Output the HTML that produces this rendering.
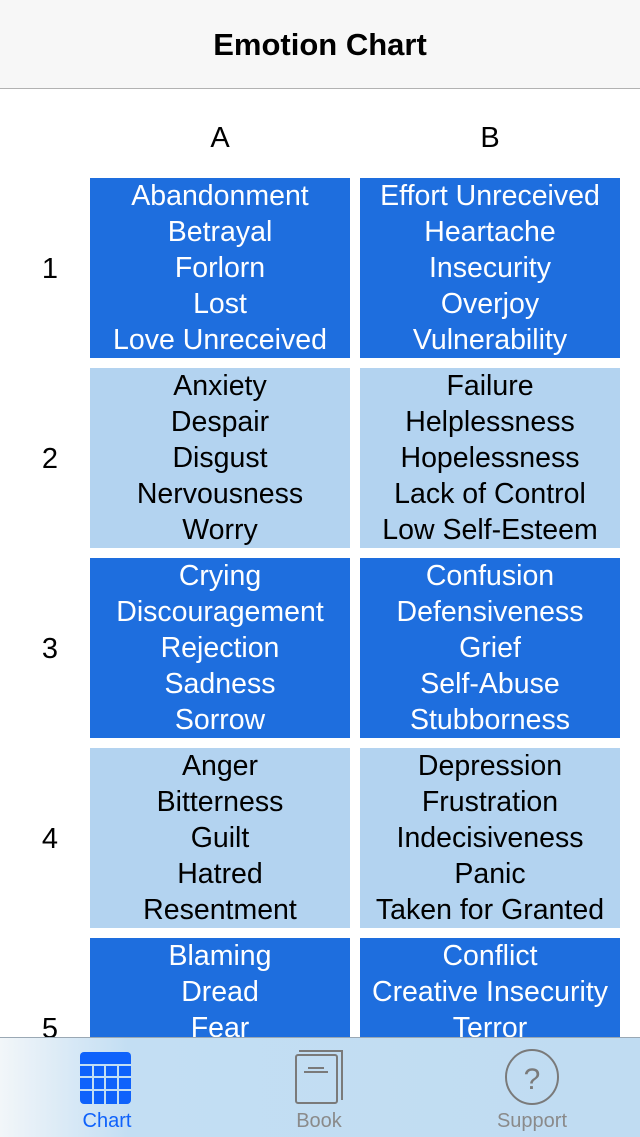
<!DOCTYPE html><html><head><style>
body{margin:0;width:640px;height:1136px;overflow:hidden;font-family:"Liberation Sans",sans-serif;background:#fff;position:relative}
.hdr{position:absolute;left:0;top:0;width:640px;height:88px;background:#f7f7f7;border-bottom:1px solid #b2b2b2;text-align:center;line-height:90px;font-size:31px;font-weight:bold}
.col{position:absolute;top:118px;font-size:29px;width:260px;text-align:center;line-height:40px}
.c{position:absolute;width:260px;height:180px;text-align:center;font-size:28.5px;line-height:36px;color:#fff;background:#1e6ede;overflow:hidden}
.l{background:#b3d3f0;color:#000}
.n{position:absolute;left:30px;width:40px;text-align:center;font-size:29px}
.tab{position:absolute;left:0;top:1037px;width:640px;height:99px;background:linear-gradient(90deg,#f2f6f9 0%,#c3def3 20%,#c0dcf2 100%);border-top:1px solid #9aa8b4}
.t{position:absolute;top:1110px;font-size:20px;color:#8a8a8a;width:120px;text-align:center}
</style></head><body>
<div class="hdr">Emotion Chart</div>
<div class="col" style="left:90px">A</div><div class="col" style="left:360px">B</div>
<div class="n" style="top:253px">1</div>
<div class="n" style="top:443px">2</div>
<div class="n" style="top:633px">3</div>
<div class="n" style="top:823px">4</div>
<div class="n" style="top:1013px">5</div>
<div class="c" style="left:90px;top:178px">Abandonment<br>Betrayal<br>Forlorn<br>Lost<br>Love Unreceived</div>
<div class="c" style="left:360px;top:178px">Effort Unreceived<br>Heartache<br>Insecurity<br>Overjoy<br>Vulnerability</div>
<div class="c l" style="left:90px;top:368px">Anxiety<br>Despair<br>Disgust<br>Nervousness<br>Worry</div>
<div class="c l" style="left:360px;top:368px">Failure<br>Helplessness<br>Hopelessness<br>Lack of Control<br>Low Self-Esteem</div>
<div class="c" style="left:90px;top:558px">Crying<br>Discouragement<br>Rejection<br>Sadness<br>Sorrow</div>
<div class="c" style="left:360px;top:558px">Confusion<br>Defensiveness<br>Grief<br>Self-Abuse<br>Stubborness</div>
<div class="c l" style="left:90px;top:748px">Anger<br>Bitterness<br>Guilt<br>Hatred<br>Resentment</div>
<div class="c l" style="left:360px;top:748px">Depression<br>Frustration<br>Indecisiveness<br>Panic<br>Taken for Granted</div>
<div class="c" style="left:90px;top:938px">Blaming<br>Dread<br>Fear</div>
<div class="c" style="left:360px;top:938px">Conflict<br>Creative Insecurity<br>Terror</div>
<div class="tab"></div>
<svg style="position:absolute;left:0;top:1037px" width="640" height="99">
<rect x="80" y="15" width="51" height="52" rx="4" fill="#0f62fb"/>
<g stroke="#c3def3" stroke-width="2"><line x1="80" y1="28" x2="131" y2="28"/><line x1="80" y1="40" x2="131" y2="40"/><line x1="80" y1="53" x2="131" y2="53"/><line x1="93" y1="28" x2="93" y2="67"/><line x1="105" y1="28" x2="105" y2="67"/><line x1="118" y1="28" x2="118" y2="67"/></g>
<g fill="none" stroke="#7a7a7a" stroke-width="2"><rect x="296" y="18" width="41" height="48" rx="2"/><polyline points="299,14 342,14 342,63"/><line x1="308" y1="31" x2="324" y2="31"/><line x1="304" y1="35" x2="328" y2="35"/><ellipse cx="532" cy="40" rx="26" ry="27"/></g>
<text x="532" y="52" font-size="30" fill="#7a7a7a" text-anchor="middle" font-family="Liberation Sans">?</text>
</svg>
<div class="t" style="left:47px;color:#0f62fb">Chart</div>
<div class="t" style="left:259px">Book</div>
<div class="t" style="left:472px">Support</div>
</body></html>
